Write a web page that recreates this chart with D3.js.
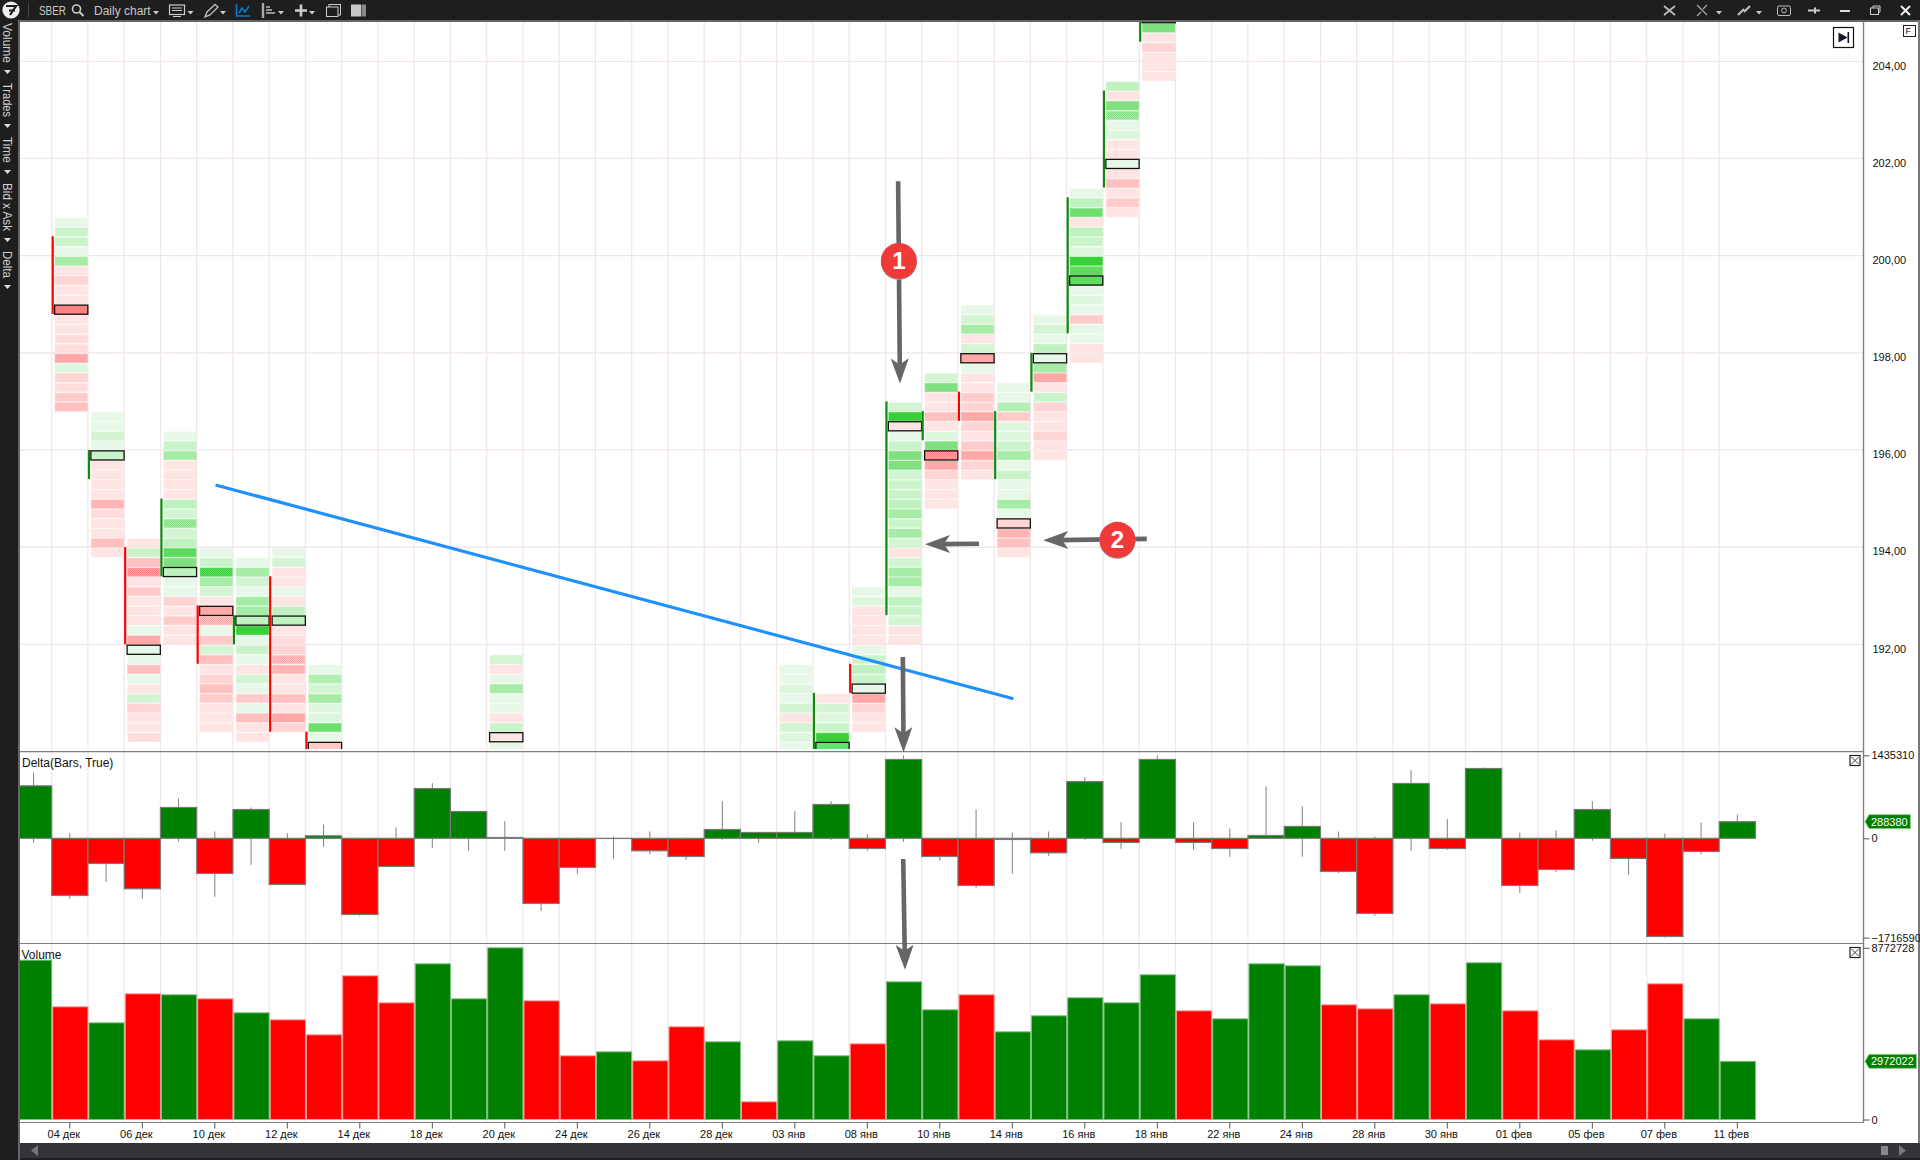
<!DOCTYPE html>
<html>
<head>
<meta charset="utf-8">
<title>SBER Daily chart</title>
<script src="https://cdn.jsdelivr.net/npm/d3@7"></script>
<style>
  html, body { margin: 0; padding: 0; background: #1e1e1e; overflow: hidden; }
  svg { display: block; font-family: "Liberation Sans", Arial, sans-serif; }
  .axis text { fill: #111; font-size: 11px; font-family: "Liberation Sans", Arial, sans-serif; }
  .axis line { stroke: #555; }
  .axis path { display: none; }
  .title { fill: #111; font-size: 12px; }
  .tool { fill: #c8c8c8; font-size: 12px; }
</style>
</head>
<body>
<div id="chart"></div>
<script>
/* one entry per session, oldest first */
const barDates = [
  '03 дек', '04 дек', '05 дек', '06 дек', '07 дек', '10 дек', '11 дек', '12 дек',
  '13 дек', '14 дек', '17 дек', '18 дек', '19 дек', '20 дек', '21 дек', '24 дек',
  '25 дек', '26 дек', '27 дек', '28 дек', '29 дек', '03 янв', '04 янв', '08 янв',
  '09 янв', '10 янв', '11 янв', '14 янв', '15 янв', '16 янв', '17 янв', '18 янв',
  '21 янв', '22 янв', '23 янв', '24 янв', '25 янв', '28 янв', '29 янв', '30 янв',
  '31 янв', '01 фев', '04 фев', '05 фев', '06 фев', '07 фев', '08 фев', '11 фев'
];

const volume = [
  8142000, 5758000, 4940000, 6422000, 6371000, 6166000, 5451000, 5093000,
  4327000, 7342000, 5962000, 7955000, 6166000, 8772728, 6064000, 3254000,
  3458000, 2998000, 4736000, 3969000, 903000, 4020000, 3254000, 3867000,
  7035000, 5604000, 6371000, 4480000, 5298000, 6218000, 5962000, 7393000,
  5553000, 5144000, 7955000, 7853000, 5860000, 5655000, 6371000, 5911000,
  8006000, 5553000, 4071000, 3560000, 4582000, 6933000, 5144000, 2972022
];

/* 1 = volume bar closed up, 0 = closed down */
const volumeUp = [
  1, 0, 1, 0, 1, 0, 1, 0, 0, 0, 0, 1, 1, 1, 0, 0,
  1, 0, 0, 1, 0, 1, 1, 0, 1, 1, 0, 1, 1, 1, 1, 1,
  0, 1, 1, 1, 0, 0, 1, 0, 1, 0, 0, 1, 0, 0, 1, 1
];

const delta = [
  907000, -988000, -435000, -873000, 533000, -608000, 498000, -798000,
  43000, -1317000, -487000, 861000, 464000, 14000, -1126000, -504000,
  -3000, -216000, -314000, 153000, 101000, 101000, 585000, -176000,
  1363000, -314000, -815000, -20000, -251000, 982000, -72000, 1363000,
  -72000, -176000, 49000, 205000, -573000, -1299000, 948000, -176000,
  1207000, -815000, -539000, 498000, -349000, -1697000, -228000, 288380
];

const deltaHigh = [
  1138000, 89000, 0, 14000, 689000, 118000, 533000, 89000,
  239000, 14000, 187000, 954000, 464000, 297000, 0, 14000,
  32000, 118000, 14000, 642000, 101000, 470000, 642000, 72000,
  1435310, 0, 498000, 101000, 118000, 1057000, 279000, 1435310,
  274000, 170000, 896000, 550000, 118000, 32000, 1178000, 331000,
  1224000, 101000, 141000, 642000, 0, 84000, 274000, 412000
];

const deltaLow = [
  -78000, -1046000, -752000, -1046000, -60000, -1011000, -458000, -798000,
  -147000, -1340000, -487000, -164000, -216000, -216000, -1253000, -614000,
  -354000, -274000, -372000, -26000, -78000, -3000, -26000, -216000,
  -60000, -389000, -856000, -614000, -303000, -26000, -182000, -3000,
  -199000, -320000, 0, -320000, -602000, -1340000, -216000, -199000,
  0, -942000, -585000, -43000, -631000, -1716590, -274000, 0
];

/* footprint ladders: one list of rows per visible session, read from the top row down.
 * Positive = bid-dominated (green), negative = ask-dominated (red), .5 = dithered step */
const ladderBars = ['04 дек', '05 дек', '06 дек', '07 дек', '10 дек', '11 дек', '12 дек', '13 дек',
  '20 дек', '21 дек', '03 янв', '04 янв', '08 янв', '09 янв', '10 янв', '11 янв', '14 янв', '15 янв',
  '16 янв', '17 янв', '18 янв'];
const ladderTops = [200.8, 196.8, 194.2, 196.4, 194, 193.8, 194, 191.6,
  191.8, 189.6, 191.6, 191, 193.2, 197, 197.6, 199, 197.4, 198.8,
  201.4, 203.6, 205];
const ladderRows = [
  [1, 2.5, 2.5, 1, 4, -1, -2, -1, -1, -5, -1, -1, -1.5, -1.5, -4, 1.5, -2, -1.5, -2.5, -3],
  [1, 1, 2, 1, 2.5, -1, -1, -1, -1, -3.5, -1.5, -1, -1, -3, -1],
  [-1, 2.5, -3, -4.5, -1, -2.5, -1, -1, -1, 1, -4, 1, 1, -3, 1, -1, 2, -2, -1, -1, -1.5],
  [1, 2.5, 4, -1, -1, -1, -1, 3, 2, 4.5, 2, 3, 6, 5, 3, 1, 1, -2, -1, -2.5, -1, -1],
  [1, 2.5, 6.5, 4, 2, -1, -4, -3.5, 1, -2.5, 2, -3, -1, -2, -3, -2.5, -1, -1, -1],
  [1, 4, 2, 1, 4, 4, 3, 7, 1, 2.5, 1, -1, 2, 1, -2.5, 1, -3, -1, -1],
  [1, 2, -1, -1, 1, -1, 3, 3, -1, -1.5, -2, -3.5, -3.5, -1, -1, -3, -1, -4, -2],
  [1, 3.5, 2, 4, 1.5, 1.5, 5.5, 1, -2.5, -1, -1],
  [2, -1, 1, 4, 1, 1, -1, 2.5, -1, 1],
  [1, 1],
  [1, 1, 1.5, 1, 2, -1, 2, 1.5, 1],
  [-1, 2, 1.5, 2.5, 7, 5.5],
  [1, 1.5, -1, -1, -1, -1, 1, 2.5, 3, 2.5, 1, -4, -2, -1, -1],
  [2, 7, -1, 1, 2.5, 5, 5, 2, 2.5, 2.5, 3, 4, 2.5, 4, 2, -1, 2, 4, 4, 1, 3, 2.5, 2, -1, -1],
  [2, 5, -1, -1, -3, -1, 1.5, 5, -4.5, -4, -2, -1, -1, -1],
  [1, 2, 4, -1, 2, -4, 1, -1, -1, -2.5, -2, -4, -2, -1, -2.5, -4, -2, -1],
  [1, 1, 3.5, -2.5, 1.5, 1.5, 2.5, 4, 1, 2.5, 1, 1, 4, 1, -2, -3.5, -3, -1],
  [1, 2, 1, 3, 1, 4, -4, -1, 2.5, -2, -1, -1, -2, -1, -1],
  [1, 3, 5.5, -1, 3, 2.5, 1.5, 7, 6, 6, 1, 1.5, 1, -2.5, 1, 1, -1, -1],
  [3, -1, 5, 4.5, 1, 1.5, -1, -1, 1, -1, -3, -1, -2.5, -1],
  [7, 5, -1, -2, -1, -1, -1]
];
/* row holding the point of control; -1 when it is below the visible range */
const pocRows = [9, 4, 11, 14, 6, 6, 7, 8, 8, -1, -1, 5, 10, 2, 8, 5, 14, 4, 9, 8, 0];
/* open and close of the session; null when below the visible range */
const bodyOpen = [200.4, 195.4, 194, 193.4, 192.8, 192, 193.4, 190.2,
  null, null, null, 189.6, 191.6, 192.6, 196.2, 197.2, 195.4, 197.2, 198.4, 201.4, 204.4];
const bodyClose = [198.8, 196, 192, 195, 191.6, 192.6, 190.2, 189.4,
  null, null, null, 191, 191, 197, 196.8, 196.6, 196.8, 198, 201.2, 203.4, 205.2];

const priceTicks = [204, 202, 200, 198, 196, 194, 192];
const deltaTicks = [1435310, 0, -1716590];
const volumeTicks = [8772728, 0];

/* drawings on the chart, anchored to [bar position, price] */
const trendLine = [[5.52, 195.28], [27.53, 190.88]];
const arrows = [
  [[24.35, 201.53], [24.40, 197.37]],
  [[26.58, 194.07], [25.09, 194.06]],
  [[31.21, 194.17], [28.35, 194.14]],
  [[24.48, 191.74], [24.50, 189.78]],
  [[24.49, 187.58], [24.54, 185.30]]
];
const markers = [[24.37, 199.89, '1'], [30.40, 194.15, '2']];

const sideMenu = ['Volume', 'Trades', 'Time', 'Bid x Ask', 'Delta'];

const WIDTH = 1920;
const HEIGHT = 1160;
const ROW_STEP = 0.2;
const PLOT_LEFT = 20;
const PLOT_RIGHT = 1863.5;
const MAIN_TOP = 22;
const MAIN_BOTTOM = 751.7;
const DELTA_BOTTOM = 943.5;
const VOLUME_BOTTOM = 1122.5;
const STEP = 36.25;
const FIRST_BAR = 15.45;

const GREENS = ['#fff', '#e8f8e8', '#d4f5d4', '#c0f1c0', '#a6eba6', '#80e080', '#5fdb5f', '#38d038'];
const REDS = ['#fff', '#ffe4e4', '#ffd4d4', '#ffc0c0', '#ffa8a8', '#ff8080'];

const x = d3.scaleBand().domain(barDates).range([FIRST_BAR, FIRST_BAR + STEP * barDates.length]);
const barPos = d3.scaleLinear().domain([0, barDates.length]).range(x.range());
const yPrice = d3.scaleLinear().domain([204, 192]).range([61.3, 644.3]);
const yDelta = d3.scaleLinear().domain([1435310, -1716590]).range([755.3, 937.6]);
const yVolume = d3.scaleLinear().domain([0, 8772728]).range([1119.5, 947.8]);

const svg = d3.select('#chart').append('svg')
    .attr('width', WIDTH)
    .attr('height', HEIGHT);
const defs = svg.append('defs');

function levelColor(level) {
    const palette = level > 0 ? GREENS : REDS;
    return palette[Math.min(Math.abs(level), palette.length - 1)];
}

// Half levels are the dithered cells of the ladder, a checker of the two neighbours.
function levelFill(level) {
    if (Number.isInteger(level)) return levelColor(level);
    const low = Math.trunc(level);
    const high = low + Math.sign(level);
    const id = `dither${level > 0 ? 'g' : 'r'}${Math.abs(low)}`;
    if (defs.select(`#${id}`).empty()) {
        const pattern = defs.append('pattern')
            .attr('id', id)
            .attr('width', 2)
            .attr('height', 2)
            .attr('patternUnits', 'userSpaceOnUse');
        pattern.append('rect').attr('width', 2).attr('height', 2).attr('fill', levelColor(low));
        pattern.append('rect').attr('width', 1).attr('height', 1).attr('fill', levelColor(high));
        pattern.append('rect').attr('x', 1).attr('y', 1).attr('width', 1).attr('height', 1).attr('fill', levelColor(high));
    }
    return `url(#${id})`;
}

defs.append('clipPath').attr('id', 'clipMain').append('rect')
    .attr('x', PLOT_LEFT).attr('y', MAIN_TOP)
    .attr('width', PLOT_RIGHT - PLOT_LEFT).attr('height', 749 - MAIN_TOP);
defs.append('clipPath').attr('id', 'clipLower').append('rect')
    .attr('x', PLOT_LEFT).attr('y', MAIN_BOTTOM)
    .attr('width', PLOT_RIGHT - PLOT_LEFT).attr('height', VOLUME_BOTTOM - MAIN_BOTTOM);

// Window frame.
svg.append('rect').attr('width', WIDTH).attr('height', HEIGHT).attr('fill', '#1e1e1e');
svg.append('rect')
    .attr('x', PLOT_LEFT).attr('y', MAIN_TOP)
    .attr('width', 1918 - PLOT_LEFT).attr('height', 1143 - MAIN_TOP)
    .attr('fill', '#fff');
svg.append('rect').attr('x', 18).attr('y', 20).attr('width', 1902).attr('height', 2).attr('fill', '#666');
svg.append('rect').attr('x', 18).attr('y', 20).attr('width', 2).attr('height', 1140).attr('fill', '#666');
svg.append('rect').attr('x', 1918).attr('y', 20).attr('width', 2).attr('height', 1123).attr('fill', '#777');

// Grid: bar boundaries run through all three panels, prices only through the top one.
svg.append('g').selectAll('line')
    .data(barDates.slice(0, -1))
    .enter()
    .append('line')
    .attr('x1', (d) => x(d) + STEP)
    .attr('x2', (d) => x(d) + STEP)
    .attr('y1', MAIN_TOP)
    .attr('y2', VOLUME_BOTTOM)
    .attr('stroke', '#f1e5e9')
    .attr('stroke-width', 1.2);

svg.append('g').selectAll('line')
    .data(priceTicks)
    .enter()
    .append('line')
    .attr('x1', PLOT_LEFT)
    .attr('x2', PLOT_RIGHT)
    .attr('y1', (d) => yPrice(d))
    .attr('y2', (d) => yPrice(d))
    .attr('stroke', '#f1e5e9')
    .attr('stroke-width', 1.2);

// Footprint ladders.
const main = svg.append('g').attr('clip-path', 'url(#clipMain)');
const bw = x.bandwidth();
const rowHeight = yPrice(0) - yPrice(ROW_STEP);

ladderBars.forEach((date, n) => {
    const top = ladderTops[n];
    const rowY = (i) => yPrice(top - i * ROW_STEP) + 0.7;

    main.append('g').selectAll('rect')
        .data(ladderRows[n])
        .enter()
        .append('rect')
        .attr('x', x(date) + 3.4)
        .attr('y', (d, i) => rowY(i) + 0.7)
        .attr('width', bw - 4)
        .attr('height', rowHeight - 1.4)
        .attr('fill', (d) => levelFill(d))
        .attr('stroke', (d) => levelColor(Math.trunc(d)))
        .attr('stroke-opacity', 0.6)
        .attr('stroke-width', 1);

    if (pocRows[n] >= 0) {
        main.append('rect')
            .attr('x', x(date) + 2.9)
            .attr('y', rowY(pocRows[n]) + 0.2)
            .attr('width', bw - 3)
            .attr('height', rowHeight - 0.6)
            .attr('fill', levelFill(ladderRows[n][pocRows[n]]))
            .attr('stroke', '#111')
            .attr('stroke-width', 1.3);
    }

    if (bodyOpen[n] !== null) {
        main.append('line')
            .attr('x1', x(date) + 1)
            .attr('x2', x(date) + 1)
            .attr('y1', yPrice(bodyOpen[n]))
            .attr('y2', yPrice(bodyClose[n]))
            .attr('stroke', bodyClose[n] > bodyOpen[n] ? '#0e8a0e' : '#ff0000')
            .attr('stroke-width', 2.2);
    }
});

// Delta panel.
const lower = svg.append('g').attr('clip-path', 'url(#clipLower)');
lower.append('g').selectAll('line')
    .data(barDates)
    .enter()
    .append('line')
    .attr('x1', (d) => x(d) + bw / 2)
    .attr('x2', (d) => x(d) + bw / 2)
    .attr('y1', (d, i) => yDelta(deltaHigh[i]))
    .attr('y2', (d, i) => yDelta(deltaLow[i]))
    .attr('stroke', '#808080')
    .attr('stroke-width', 1);

lower.append('g').selectAll('rect')
    .data(barDates)
    .enter()
    .append('rect')
    .attr('x', (d) => x(d))
    .attr('y', (d, i) => Math.min(yDelta(delta[i]), yDelta(0)))
    .attr('width', bw)
    .attr('height', (d, i) => Math.abs(yDelta(delta[i]) - yDelta(0)))
    .attr('fill', (d, i) => delta[i] >= 0 ? '#008000' : '#ff0000')
    .attr('stroke', '#7a7a7a')
    .attr('stroke-width', 1.2);

// Volume panel.
lower.append('g').selectAll('rect')
    .data(barDates)
    .enter()
    .append('rect')
    .attr('x', (d) => x(d) + 1)
    .attr('y', (d, i) => yVolume(volume[i]))
    .attr('width', bw - 1)
    .attr('height', (d, i) => yVolume(0) - yVolume(volume[i]))
    .attr('fill', (d, i) => volumeUp[i] ? '#008000' : '#ff0000')
    .attr('stroke', (d, i) => volumeUp[i] ? '#7fbf7f' : '#ff9a9a')
    .attr('stroke-width', 1);

// Panel frames.
[MAIN_BOTTOM, DELTA_BOTTOM, VOLUME_BOTTOM].forEach((y) => {
    svg.append('line')
        .attr('x1', PLOT_LEFT).attr('x2', PLOT_RIGHT)
        .attr('y1', y).attr('y2', y)
        .attr('stroke', '#808080')
        .attr('stroke-width', 1.2);
});
svg.append('line')
    .attr('x1', PLOT_RIGHT).attr('x2', PLOT_RIGHT)
    .attr('y1', MAIN_TOP).attr('y2', VOLUME_BOTTOM)
    .attr('stroke', '#808080')
    .attr('stroke-width', 1.4);

// Axes.
const priceAxis = svg.append('g')
    .attr('class', 'axis')
    .attr('transform', `translate(${PLOT_RIGHT},0)`)
    .call(d3.axisRight(yPrice)
        .tickValues(priceTicks)
        .tickSize(0)
        .tickPadding(9)
        .tickFormat((d) => d.toFixed(2).replace('.', ',')));
priceAxis.selectAll('text').attr('dy', '0.32em').attr('y', 4.2);

svg.append('g')
    .attr('class', 'axis')
    .attr('transform', `translate(${PLOT_RIGHT},0)`)
    .call(d3.axisRight(yDelta).tickValues(deltaTicks).tickSize(6).tickPadding(2).tickFormat(d3.format('d')));

svg.append('g')
    .attr('class', 'axis')
    .attr('transform', `translate(${PLOT_RIGHT},0)`)
    .call(d3.axisRight(yVolume).tickValues(volumeTicks).tickSize(6).tickPadding(2).tickFormat(d3.format('d')));

const timeAxis = svg.append('g')
    .attr('class', 'axis')
    .attr('transform', `translate(0,${VOLUME_BOTTOM})`)
    .call(d3.axisBottom(x)
        .tickValues(barDates.filter((d, i) => i % 2 === 1))
        .tickSize(6)
        .tickPadding(1.5));
timeAxis.selectAll('text').attr('dx', -6);

// Last-value tags.
function lastValueTag(y, value, right) {
    const tag = svg.append('g');
    tag.append('path')
        .attr('d', `M1865,${y}L1869,${y - 7}H${right}V${y + 7}H1869Z`)
        .attr('fill', '#008000')
        .attr('stroke', '#8fc98f')
        .attr('stroke-width', 1);
    tag.append('text')
        .attr('x', 1871)
        .attr('y', y + 4)
        .attr('fill', '#fff')
        .attr('font-size', 11)
        .text(value);
}
lastValueTag(yDelta(delta[delta.length - 1]), delta[delta.length - 1], 1910.5);
lastValueTag(yVolume(volume[volume.length - 1]), volume[volume.length - 1], 1916.5);

svg.append('text').attr('class', 'title').attr('x', 22).attr('y', 767).text('Delta(Bars, True)');
svg.append('text').attr('class', 'title').attr('x', 21.5).attr('y', 959).text('Volume');

// Drawings over the chart.
svg.append('line')
    .attr('x1', barPos(trendLine[0][0]))
    .attr('y1', yPrice(trendLine[0][1]))
    .attr('x2', barPos(trendLine[1][0]))
    .attr('y2', yPrice(trendLine[1][1]))
    .attr('stroke', '#1e90ff')
    .attr('stroke-width', 3.2);

arrows.forEach((a) => {
    const x1 = barPos(a[0][0]);
    const y1 = yPrice(a[0][1]);
    const x2 = barPos(a[1][0]);
    const y2 = yPrice(a[1][1]);
    const angle = Math.atan2(y2 - y1, x2 - x1) * 180 / Math.PI;
    const len = Math.hypot(x2 - x1, y2 - y1);
    const g = svg.append('g').attr('transform', `translate(${x1},${y1})rotate(${angle})`);
    g.append('line')
        .attr('x2', len - 14)
        .attr('stroke', '#666')
        .attr('stroke-width', 4.6);
    g.append('path')
        .attr('d', `M${len},0L${len - 25},-9L${len - 19},0L${len - 25},9Z`)
        .attr('fill', '#666');
});

markers.forEach((m) => {
    const g = svg.append('g').attr('transform', `translate(${barPos(m[0])},${yPrice(m[1])})`);
    g.append('circle').attr('r', 18).attr('cy', 1).attr('fill', '#999');
    g.append('circle').attr('r', 18).attr('fill', '#f03a3a');
    g.append('text')
        .attr('text-anchor', 'middle')
        .attr('y', 8.5)
        .attr('fill', '#fff')
        .attr('font-size', 24)
        .attr('font-weight', 'bold')
        .text(m[2]);
});

// Small buttons in the panels.
function closeBox(bx, by) {
    const g = svg.append('g').attr('transform', `translate(${bx},${by})`).attr('fill', 'none').attr('stroke', '#222');
    g.append('rect').attr('width', 10).attr('height', 10).attr('stroke-width', 1.2);
    g.append('path').attr('d', 'M1.5,1.5L8.5,8.5M8.5,1.5L1.5,8.5').attr('stroke-width', 0.9);
}
closeBox(1850, 755.5);
closeBox(1850, 947.5);

svg.append('rect').attr('x', 1833.5).attr('y', 27.5).attr('width', 20).attr('height', 20)
    .attr('fill', '#fff').attr('stroke', '#111').attr('stroke-width', 1.2);
svg.append('path').attr('d', 'M1838.5,32.5L1847.5,37.5L1838.5,42.5Z').attr('fill', '#16162a');
svg.append('rect').attr('x', 1847.5).attr('y', 32).attr('width', 1.6).attr('height', 11).attr('fill', '#16162a');

svg.append('rect').attr('x', 1903.5).attr('y', 25.5).attr('width', 12).attr('height', 11)
    .attr('fill', '#fff').attr('stroke', '#222').attr('stroke-width', 1);
svg.append('text').attr('x', 1905.5).attr('y', 34).attr('font-size', 9).attr('fill', '#111').text('F');

// Scroll bar.
svg.append('rect').attr('x', 20).attr('y', 1143).attr('width', 1900).attr('height', 15).attr('fill', '#333338');
svg.append('path').attr('d', 'M31,1150.5L38,1145V1156Z').attr('fill', '#777');
svg.append('rect').attr('x', 1881).attr('y', 1146).attr('width', 7).attr('height', 9).attr('fill', '#888');
svg.append('path').attr('d', 'M1899,1145L1906,1150.5L1899,1156Z').attr('fill', '#777');

// Toolbar.
function dropArrow(ax, ay) {
    svg.append('path').attr('d', `M${ax},${ay}h6l-3,3.5Z`).attr('fill', '#ccc');
}
const tools = svg.append('g');
tools.append('circle').attr('cx', 11).attr('cy', 10).attr('r', 8.6).attr('fill', '#eee');
tools.append('path').attr('d', 'M6,6H16L10,15M9,10.5H15').attr('fill', 'none').attr('stroke', '#1e1e1e').attr('stroke-width', 2.2);
tools.append('line').attr('x1', 28.5).attr('x2', 28.5).attr('y1', 3).attr('y2', 18).attr('stroke', '#444');
tools.append('text').attr('class', 'tool').attr('x', 39).attr('y', 15)
    .attr('textLength', 27).attr('lengthAdjust', 'spacingAndGlyphs').text('SBER');
tools.append('circle').attr('cx', 76.5).attr('cy', 9).attr('r', 4).attr('fill', 'none').attr('stroke', '#ccc').attr('stroke-width', 1.6);
tools.append('line').attr('x1', 79.5).attr('y1', 12).attr('x2', 83.5).attr('y2', 16).attr('stroke', '#ccc').attr('stroke-width', 2);
tools.append('text').attr('class', 'tool').attr('x', 94).attr('y', 15).text('Daily chart');
dropArrow(153, 11);
tools.append('rect').attr('x', 169.5).attr('y', 5).attr('width', 15).attr('height', 9.5).attr('fill', 'none').attr('stroke', '#ccc').attr('stroke-width', 1.2);
tools.append('path').attr('d', 'M172,8H182M172,10.5H182M173,16.5H181').attr('stroke', '#ccc').attr('stroke-width', 1);
dropArrow(187.5, 11);
tools.append('path').attr('d', 'M205,17L207,12L215,4.5L218,7L210,15Z').attr('fill', 'none').attr('stroke', '#bbb').attr('stroke-width', 1.4);
dropArrow(220, 11);
tools.append('path').attr('d', 'M236.5,4V16H250M239,13L242,8L245,12L249,6').attr('fill', 'none').attr('stroke', '#0a78cc').attr('stroke-width', 1.6);
tools.append('path').attr('d', 'M263,3V18').attr('stroke', '#aaa').attr('stroke-width', 2.4);
tools.append('path').attr('d', 'M266,7H270M266,10H272M266,13H275').attr('stroke', '#bbb').attr('stroke-width', 1.6);
dropArrow(278, 11);
tools.append('path').attr('d', 'M301,4.5V16.5M295,10.5H307').attr('stroke', '#ccc').attr('stroke-width', 2.6);
dropArrow(309, 11);
tools.append('rect').attr('x', 329).attr('y', 4.5).attr('width', 11.5).attr('height', 10.5).attr('fill', 'none').attr('stroke', '#ccc').attr('stroke-width', 1);
tools.append('rect').attr('x', 326.5).attr('y', 7).attr('width', 11.5).attr('height', 9.5).attr('fill', '#1e1e1e').attr('stroke', '#ccc').attr('stroke-width', 1);
tools.append('rect').attr('x', 351).attr('y', 4.5).attr('width', 10).attr('height', 12).attr('fill', '#c8c8c8');
tools.append('rect').attr('x', 361.5).attr('y', 4.5).attr('width', 4.5).attr('height', 12).attr('fill', '#888');

tools.append('path').attr('d', 'M1664,6L1675,15M1675,6L1664,15').attr('stroke', '#bbb').attr('stroke-width', 1.8);
tools.append('path').attr('d', 'M1697,16L1701,12M1707,5L1703,9M1697,5L1707,15').attr('stroke', '#aaa').attr('stroke-width', 1.2);
dropArrow(1716, 11);
tools.append('path').attr('d', 'M1738,15L1744,9M1744,12L1750,6').attr('stroke', '#bbb').attr('stroke-width', 2.2);
dropArrow(1756, 11);
tools.append('rect').attr('x', 1777.5).attr('y', 6).attr('width', 13).attr('height', 9.5).attr('rx', 1.5).attr('fill', 'none').attr('stroke', '#bbb');
tools.append('circle').attr('cx', 1784).attr('cy', 10.5).attr('r', 2.4).attr('fill', 'none').attr('stroke', '#bbb');
tools.append('path').attr('d', 'M1808,10.5H1820M1815,7.5V13.5').attr('stroke', '#ccc').attr('stroke-width', 2);
tools.append('rect').attr('x', 1840).attr('y', 10).attr('width', 10).attr('height', 2).attr('fill', '#ddd');
tools.append('rect').attr('x', 1870.5).attr('y', 8).attr('width', 8).attr('height', 6.5).attr('fill', 'none').attr('stroke', '#ccc');
tools.append('path').attr('d', 'M1873,8V6H1880V12H1878.5').attr('fill', 'none').attr('stroke', '#ccc');
tools.append('path').attr('d', 'M1901,6L1910,15M1910,6L1901,15').attr('stroke', '#eee').attr('stroke-width', 2);

// Side menu, rotated a quarter turn.
let menuY = 23;
const menuLengths = [40, 34, 26, 48, 27];
sideMenu.forEach((label, i) => {
    svg.append('text')
        .attr('transform', `translate(3,${menuY})rotate(90)`)
        .attr('fill', '#d0d0d0')
        .attr('font-size', 12)
        .attr('textLength', menuLengths[i])
        .attr('lengthAdjust', 'spacingAndGlyphs')
        .text(label);
    menuY += menuLengths[i] + 7;
    svg.append('path').attr('d', `M4,${menuY}h7l-3.5,4Z`).attr('fill', '#ddd');
    menuY += 13;
});
</script>
</body>
</html>
